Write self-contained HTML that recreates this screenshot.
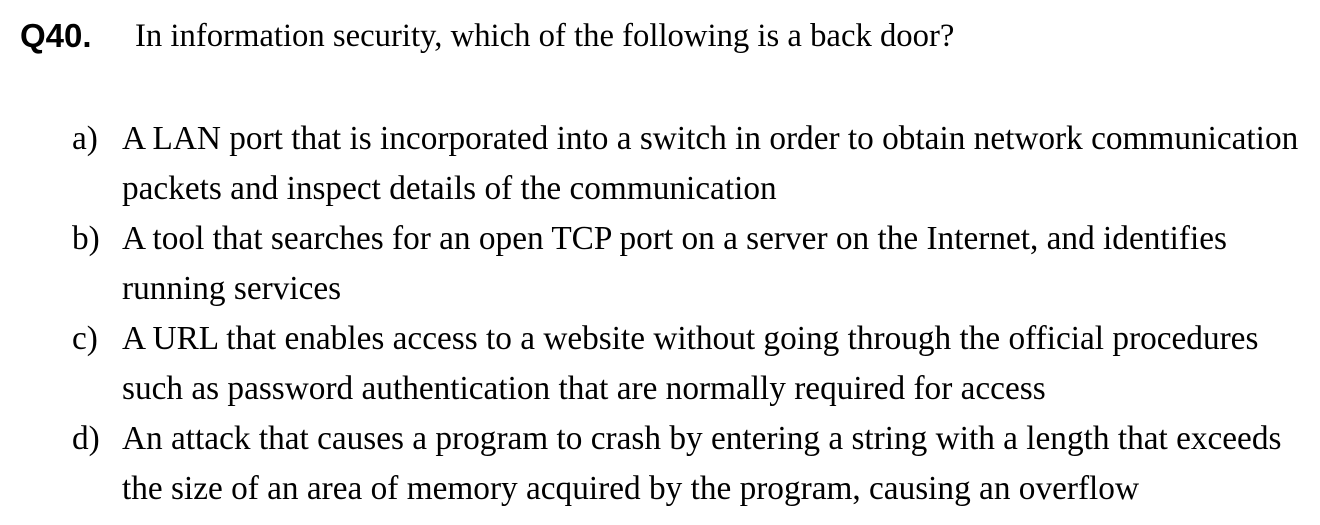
<!DOCTYPE html>
<html><head><meta charset="utf-8"><style>
html,body{margin:0;padding:0;background:#fff;}
body{width:1320px;height:525px;position:relative;overflow:hidden;color:#000;}
.l{position:absolute;white-space:nowrap;font-family:"Liberation Serif",serif;font-size:33.3px;line-height:33px;}
.q{font-family:"Liberation Sans",sans-serif;font-weight:bold;font-size:33px;}
</style></head><body>
<div class="l q" style="left:20px;top:19px;">Q40.</div>
<div class="l" style="left:135px;top:20px;font-size:32.7px;">In information security, which of the following is a back door?</div>

<div class="l" style="left:72px;top:122px;">a)</div>
<div class="l" style="left:122px;top:122px;">A LAN port that is incorporated into a switch in order to obtain network communication</div>
<div class="l" style="left:122px;top:172px;">packets and inspect details of the communication</div>

<div class="l" style="left:72px;top:222px;">b)</div>
<div class="l" style="left:122px;top:222px;">A tool that searches for an open TCP port on a server on the Internet, and identifies</div>
<div class="l" style="left:122px;top:272px;">running services</div>

<div class="l" style="left:72px;top:322px;">c)</div>
<div class="l" style="left:122px;top:322px;">A URL that enables access to a website without going through the official procedures</div>
<div class="l" style="left:122px;top:372px;">such as password authentication that are normally required for access</div>

<div class="l" style="left:72px;top:422px;">d)</div>
<div class="l" style="left:122px;top:422px;">An attack that causes a program to crash by entering a string with a length that exceeds</div>
<div class="l" style="left:122px;top:472px;">the size of an area of memory acquired by the program, causing an overflow</div>
</body></html>
